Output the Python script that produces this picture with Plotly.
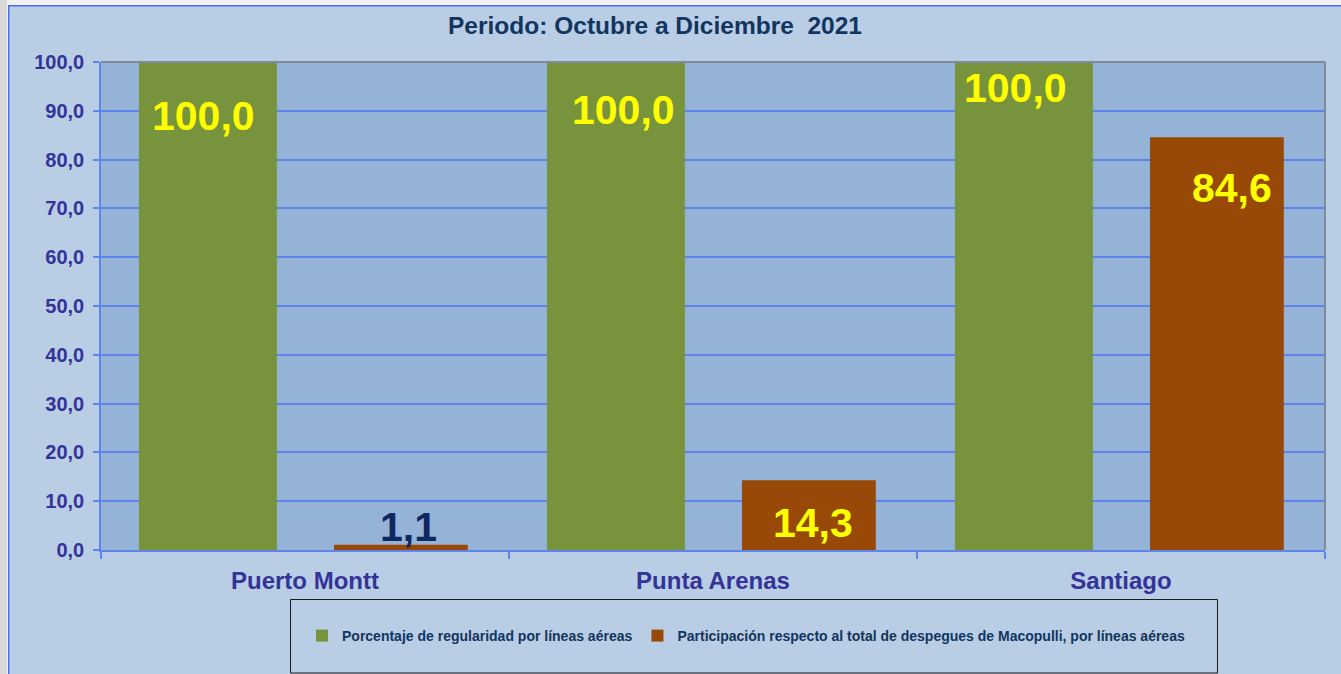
import plotly.graph_objects as go

# ---- data ----
categories = ["Puerto Montt", "Punta Arenas", "Santiago"]
regularidad = [100.0, 100.0, 100.0]
participacion = [1.1, 14.3, 84.6]
series_names = [
    "Porcentaje de regularidad por líneas aéreas",
    "Participación respecto al total de despegues de Macopulli, por líneas aéreas",
]
title_text = "Periodo: Octubre a Diciembre \u00a02021"
y_ticks = [0, 10, 20, 30, 40, 50, 60, 70, 80, 90, 100]

# ---- styles ----
OX, OY = 8, 5                       # where the figure sits on the page
W, H = 1341 - OX, 674 - OY
ML, MR, MT, MB = 101 - OX, 16, 62 - OY, H - (550 - OY)
PW, PH = W - ML - MR, H - MT - MB
FONT = "Liberation Sans, Arial, sans-serif"
GREEN = "#77933c"
ORANGE = "#984807"
GRID = "#5f84ec"
AXIS_TXT = "#333399"
NAVY = "#12355f"


def px_x(p):  # page pixel -> paper x
    return (p - OX - ML) / PW


def px_y(p):  # page pixel -> paper y
    return (H - MB - (p - OY)) / PH


fig = go.Figure()
fig.add_trace(go.Bar(
    x=categories, y=regularidad, name=series_names[0],
    marker=dict(color=GREEN, line=dict(width=0)),
    offset=-0.407, width=0.338,
))
fig.add_trace(go.Bar(
    x=categories, y=participacion, name=series_names[1],
    marker=dict(color=ORANGE, line=dict(width=0)),
    offset=0.071, width=0.328,
))

# data labels (pixel shifts are style)
green_shift = [(-102, -54), (-90, -48), (-106, -26)]
orange_shift = [(103, 18), (100, -43), (111, -51)]
orange_col = ["#10275f", "#ffff00", "#ffff00"]
annotations = []
for i, c in enumerate(categories):
    dx, dy = green_shift[i]
    annotations.append(dict(
        x=c, y=regularidad[i], xref="x", yref="y", showarrow=False,
        text=f"{regularidad[i]:.1f}".replace(".", ","),
        xshift=dx, yshift=dy, yanchor="middle",
        font=dict(family=FONT, size=41, color="#ffff00", weight="bold"),
    ))
for i, c in enumerate(categories):
    dx, dy = orange_shift[i]
    annotations.append(dict(
        x=c, y=participacion[i], xref="x", yref="y", showarrow=False,
        text=f"{participacion[i]:.1f}".replace(".", ","),
        xshift=dx, yshift=dy, yanchor="middle",
        font=dict(family=FONT, size=41, color=orange_col[i], weight="bold"),
    ))

shapes = [
    # outer chart area border
    dict(type="rect", xref="paper", yref="paper", x0=px_x(8.7), x1=px_x(1341 + 5),
         y0=px_y(674 + 10), y1=px_y(5.7), fillcolor="rgba(0,0,0,0)",
         line=dict(color="#4a6cf0", width=1.5), layer="below"),
    # plot area background
    dict(type="rect", xref="paper", yref="paper", x0=0, x1=1, y0=0, y1=1,
         fillcolor="#95b3d7", line=dict(width=0), layer="below"),
    # top and right plot border
    dict(type="line", xref="paper", yref="paper", x0=0, x1=1, y0=1, y1=1,
         line=dict(color="#7f8a9c", width=2), layer="above"),
    dict(type="line", xref="paper", yref="paper", x0=1, x1=1, y0=0, y1=1,
         line=dict(color="#7f8a9c", width=2), layer="above"),
    # legend frame
    dict(type="rect", xref="paper", yref="paper", x0=px_x(290.5), x1=px_x(1217.5),
         y0=px_y(673), y1=px_y(599.5), fillcolor="rgba(0,0,0,0)",
         line=dict(color="#1a1a1a", width=1), layer="above"),
]

fig.update_layout(
    width=W, height=H,
    margin=dict(l=ML, r=MR, t=MT, b=MB, pad=0),
    paper_bgcolor="#b9cde5",
    plot_bgcolor="rgba(0,0,0,0)",
    barmode="group",
    separators=",.",
    showlegend=True,
    title=dict(text=title_text, x=(655 - OX) / W, xanchor="center",
               y=1 - (25 - OY) / H, yanchor="middle",
               font=dict(family=FONT, size=24.5, color=NAVY, weight="bold")),
    legend=dict(orientation="h", x=px_x(746), xanchor="center", y=px_y(636), yanchor="middle",
                bgcolor="rgba(0,0,0,0)", borderwidth=0, itemwidth=30,
                font=dict(family=FONT, size=14, color=NAVY, weight="bold"),
                itemclick=False),
    annotations=annotations,
    shapes=shapes,
)
fig.update_xaxes(
    type="category", showgrid=False, showline=True, linecolor=GRID, linewidth=1.5,
    ticks="outside", tickson="boundaries", ticklen=7, tickcolor=GRID, tickwidth=1.5,
    ticklabelstandoff=8,
    tickfont=dict(family=FONT, size=24, color=AXIS_TXT, weight="bold"),
)
fig.update_yaxes(
    range=[0, 100], tickvals=y_ticks, tickformat=".1f",
    showgrid=True, gridcolor=GRID, gridwidth=1.5,
    showline=True, linecolor=GRID, linewidth=1.5, zeroline=False,
    ticks="outside", ticklen=6, tickcolor=GRID, tickwidth=1.5,
    ticklabelstandoff=5,
    tickfont=dict(family=FONT, size=20, color=AXIS_TXT, weight="bold"),
)

page_js = (
    "document.body.style.margin='%dpx 0 0 %dpx';"
    "document.body.style.overflow='hidden';"
    "document.body.style.background='linear-gradient(to right, #dadada %dpx, #f2f2f2 %dpx)';"
) % (OY, OX, OX - 1, OX - 1)

fig.write_html("out.html", post_script=page_js)
